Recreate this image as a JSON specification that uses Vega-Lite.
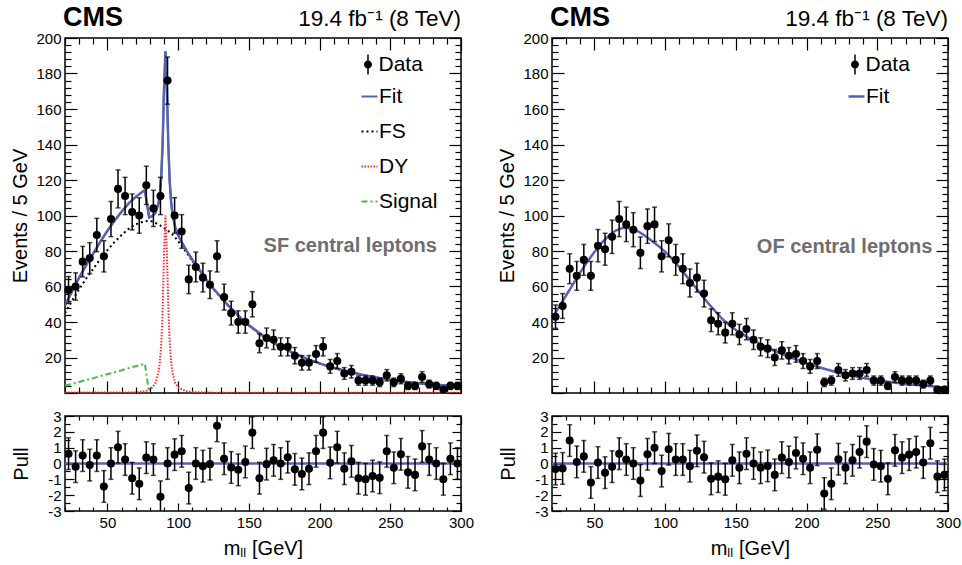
{
"$schema": "https://vega.github.io/schema/vega-lite/v6.json",
"padding": {"left": 10, "top": 3, "right": 0, "bottom": 0},
"background": "white",
"bounds": "flush",
"columns": 2,
"spacing": {"row": 23, "column": 91},
"resolve": {"scale": {"color": "independent", "strokeDash": "independent", "shape": "independent"}, "legend": {"color": "independent", "strokeDash": "independent", "shape": "independent"}},
"config": {
  "font": "Liberation Sans",
  "view": {"stroke": "black", "strokeWidth": 1.5},
  "axis": {"domain": false, "grid": false, "tickColor": "black", "tickWidth": 1.2, "labelColor": "black", "labelFont": "Liberation Sans", "labelFontSize": 15, "titleFont": "Liberation Sans", "titleFontSize": 20, "titleFontWeight": "normal", "titleColor": "black", "labelOverlap": false, "labelBound": false, "labelFlush": false},
  "legend": {"labelFont": "Liberation Sans", "labelColor": "black"}
},
"datasets": {
  "sfBins": [
    {"m":22.5,"n":58,"e":7.6,"p":0.62,"pe":1},{"m":27.5,"n":60,"e":7.7,"p":-0.2,"pe":1},{"m":32.5,"n":74,"e":8.6,"p":0.5,"pe":1},{"m":37.5,"n":76,"e":8.7,"p":-0.1,"pe":1},
    {"m":42.5,"n":89,"e":9.4,"p":0.5,"pe":1},{"m":47.5,"n":77,"e":8.8,"p":-1.45,"pe":1},{"m":52.5,"n":98,"e":9.9,"p":0,"pe":1},{"m":57.5,"n":115,"e":10.7,"p":1.03,"pe":1},
    {"m":62.5,"n":111,"e":10.5,"p":0.25,"pe":1},{"m":67.5,"n":102,"e":10.1,"p":-0.93,"pe":1},{"m":72.5,"n":100,"e":10,"p":-1.28,"pe":1},{"m":77.5,"n":117,"e":10.8,"p":0.37,"pe":1},
    {"m":82.5,"n":104,"e":10.2,"p":0.25,"pe":1},{"m":87.5,"n":111,"e":10.5,"p":-2.1,"pe":1},{"m":92.5,"n":176,"e":13.3,"p":0,"pe":1},{"m":97.5,"n":100,"e":10,"p":0.56,"pe":1},
    {"m":102.5,"n":91,"e":9.5,"p":0.77,"pe":1},{"m":107.5,"n":64,"e":8,"p":-1.55,"pe":1},{"m":112.5,"n":71,"e":8.4,"p":0,"pe":1},{"m":117.5,"n":65,"e":8.1,"p":-0.17,"pe":1},
    {"m":122.5,"n":61,"e":7.8,"p":-0.04,"pe":1},{"m":127.5,"n":77,"e":8.8,"p":2.38,"pe":1},{"m":132.5,"n":54,"e":7.3,"p":0.3,"pe":1},{"m":137.5,"n":45,"e":6.7,"p":-0.25,"pe":1},
    {"m":142.5,"n":40,"e":6.3,"p":-0.4,"pe":1},{"m":147.5,"n":40,"e":6.3,"p":0.1,"pe":1},{"m":152.5,"n":50,"e":7.1,"p":1.95,"pe":1},{"m":157.5,"n":28,"e":5.3,"p":-0.93,"pe":1},
    {"m":162.5,"n":31,"e":5.6,"p":-0.04,"pe":1},{"m":167.5,"n":30,"e":5.5,"p":0.2,"pe":1},{"m":172.5,"n":26,"e":5.1,"p":0,"pe":1},{"m":177.5,"n":26,"e":5.1,"p":0.4,"pe":1},
    {"m":182.5,"n":21,"e":4.6,"p":-0.37,"pe":1},{"m":187.5,"n":17,"e":4.1,"p":-0.66,"pe":1},{"m":192.5,"n":17,"e":4.1,"p":-0.33,"pe":1},{"m":197.5,"n":22,"e":4.7,"p":0.77,"pe":1},
    {"m":202.5,"n":26,"e":5.1,"p":1.95,"pe":1},{"m":207.5,"n":15,"e":3.9,"p":0.04,"pe":1},{"m":212.5,"n":18,"e":4.2,"p":1.03,"pe":1},{"m":217.5,"n":11,"e":3.3,"p":-0.33,"pe":1},
    {"m":222.5,"n":12,"e":3.5,"p":0.14,"pe":1},{"m":227.5,"n":7,"e":2.6,"p":-0.93,"pe":1},{"m":232.5,"n":7,"e":2.6,"p":-1.0,"pe":1},{"m":237.5,"n":7,"e":2.6,"p":-0.79,"pe":1},
    {"m":242.5,"n":6,"e":2.4,"p":-0.9,"pe":1},{"m":247.5,"n":10,"e":3.2,"p":0.77,"pe":1},{"m":252.5,"n":6,"e":2.4,"p":-0.27,"pe":1},{"m":257.5,"n":8,"e":2.8,"p":0.58,"pe":1},
    {"m":262.5,"n":4,"e":2,"p":-0.56,"pe":1},{"m":267.5,"n":4,"e":2,"p":-0.72,"pe":1},{"m":272.5,"n":9,"e":3,"p":1.08,"pe":1},{"m":277.5,"n":5,"e":2.2,"p":0.25,"pe":1},
    {"m":282.5,"n":4,"e":2,"p":0,"pe":1},{"m":287.5,"n":2,"e":1.4,"p":-1.0,"pe":1},{"m":292.5,"n":4,"e":2,"p":0.3,"pe":1},{"m":297.5,"n":4,"e":2,"p":0,"pe":1}
  ],
  "ofBins": [
    {"m":22.5,"n":43,"e":6.6,"p":-0.35,"pe":1},{"m":27.5,"n":49,"e":7,"p":-0.31,"pe":1},{"m":32.5,"n":70,"e":8.4,"p":1.45,"pe":1},{"m":37.5,"n":66,"e":8.1,"p":0.1,"pe":1},
    {"m":42.5,"n":75,"e":8.7,"p":0.45,"pe":1},{"m":47.5,"n":66,"e":8.1,"p":-1.2,"pe":1},{"m":52.5,"n":83,"e":9.1,"p":0.06,"pe":1},{"m":57.5,"n":81,"e":9,"p":-0.58,"pe":1},
    {"m":62.5,"n":88,"e":9.4,"p":-0.2,"pe":1},{"m":67.5,"n":98,"e":9.9,"p":0.62,"pe":1},{"m":72.5,"n":95,"e":9.7,"p":0.25,"pe":1},{"m":77.5,"n":92,"e":9.6,"p":0,"pe":1},
    {"m":82.5,"n":79,"e":8.9,"p":-1.08,"pe":1},{"m":87.5,"n":94,"e":9.7,"p":0.58,"pe":1},{"m":92.5,"n":95,"e":9.7,"p":1.0,"pe":1},{"m":97.5,"n":77,"e":8.8,"p":-0.48,"pe":1},
    {"m":102.5,"n":86,"e":9.3,"p":0.9,"pe":1},{"m":107.5,"n":75,"e":8.7,"p":0.25,"pe":1},{"m":112.5,"n":70,"e":8.4,"p":0.25,"pe":1},{"m":117.5,"n":62,"e":7.9,"p":-0.17,"pe":1},
    {"m":122.5,"n":65,"e":8.1,"p":0.8,"pe":1},{"m":127.5,"n":56,"e":7.5,"p":0.4,"pe":1},{"m":132.5,"n":41,"e":6.4,"p":-0.97,"pe":1},{"m":137.5,"n":39,"e":6.2,"p":-0.83,"pe":1},
    {"m":142.5,"n":34,"e":5.8,"p":-1.0,"pe":1},{"m":147.5,"n":39,"e":6.2,"p":0.2,"pe":1},{"m":152.5,"n":33,"e":5.7,"p":-0.27,"pe":1},{"m":157.5,"n":36,"e":6,"p":0.62,"pe":1},
    {"m":162.5,"n":30,"e":5.5,"p":0,"pe":1},{"m":167.5,"n":26,"e":5.1,"p":-0.27,"pe":1},{"m":172.5,"n":25,"e":5,"p":-0.15,"pe":1},{"m":177.5,"n":20,"e":4.5,"p":-0.72,"pe":1},
    {"m":182.5,"n":24,"e":4.9,"p":0.37,"pe":1},{"m":187.5,"n":21,"e":4.6,"p":0.1,"pe":1},{"m":192.5,"n":22,"e":4.7,"p":0.66,"pe":1},{"m":197.5,"n":18,"e":4.2,"p":0.3,"pe":1},
    {"m":202.5,"n":15,"e":3.9,"p":-0.27,"pe":1},{"m":207.5,"n":18,"e":4.2,"p":0.87,"pe":1},{"m":212.5,"n":6,"e":2.4,"p":-1.9,"pe":1},{"m":217.5,"n":7,"e":2.6,"p":-1.28,"pe":1},
    {"m":222.5,"n":13,"e":3.6,"p":0.27,"pe":1},{"m":227.5,"n":10,"e":3.2,"p":-0.27,"pe":1},{"m":232.5,"n":11,"e":3.3,"p":0.2,"pe":1},{"m":237.5,"n":11,"e":3.3,"p":0.72,"pe":1},
    {"m":242.5,"n":13,"e":3.6,"p":1.38,"pe":1},{"m":247.5,"n":7,"e":2.6,"p":-0.06,"pe":1},{"m":252.5,"n":7,"e":2.6,"p":-0.17,"pe":1},{"m":257.5,"n":4,"e":2,"p":-0.97,"pe":1},
    {"m":262.5,"n":9,"e":3,"p":0.83,"pe":1},{"m":267.5,"n":7,"e":2.6,"p":0.37,"pe":1},{"m":272.5,"n":7,"e":2.6,"p":0.56,"pe":1},{"m":277.5,"n":7,"e":2.6,"p":0.72,"pe":1},
    {"m":282.5,"n":5,"e":2.2,"p":0.06,"pe":1},{"m":287.5,"n":7,"e":2.6,"p":1.28,"pe":1},{"m":292.5,"n":2,"e":1.4,"p":-0.83,"pe":1},{"m":297.5,"n":2,"e":1.4,"p":-0.72,"pe":1}
  ],
  "sfCurves": [
    {"m":20,"Fit":49.3,"FS":45,"DY":0.3,"Signal":4},{"m":25,"Fit":57.4,"FS":52,"DY":0.3,"Signal":5.1},{"m":30,"Fit":65.0,"FS":58.5,"DY":0.3,"Signal":6.2},
    {"m":35,"Fit":72.1,"FS":64.5,"DY":0.3,"Signal":7.3},{"m":40,"Fit":78.7,"FS":70,"DY":0.3,"Signal":8.4},{"m":45,"Fit":85.3,"FS":75.5,"DY":0.3,"Signal":9.5},
    {"m":50,"Fit":91.4,"FS":80.5,"DY":0.3,"Signal":10.6},{"m":55,"Fit":97.0,"FS":85,"DY":0.3,"Signal":11.7},{"m":60,"Fit":102.1,"FS":89,"DY":0.3,"Signal":12.8},
    {"m":65,"Fit":106.8,"FS":92.5,"DY":0.3,"Signal":14.0},{"m":70,"Fit":110.5,"FS":95,"DY":0.4,"Signal":15.1},{"m":75,"Fit":113.5,"FS":96.5,"DY":0.8,"Signal":16.2},
    {"m":76.5,"Fit":114.2,"FS":96.7,"DY":1.0,"Signal":16.5},{"m":78,"Fit":106.3,"FS":96.9,"DY":1.4,"Signal":8},{"m":79.5,"Fit":98.9,"FS":97,"DY":1.9,"Signal":0},
    {"m":80,"Fit":99.1,"FS":97,"DY":2.1},{"m":82,"Fit":99.8,"FS":96.5,"DY":3.3},{"m":84,"Fit":101.6,"FS":95.8,"DY":5.8},{"m":86,"Fit":106.5,"FS":95,"DY":11.5},
    {"m":87,"Fit":111.6,"FS":94.6,"DY":17},{"m":88,"Fit":121.1,"FS":94.1,"DY":27},{"m":89,"Fit":139.6,"FS":93.6,"DY":46},{"m":90,"Fit":171,"FS":93,"DY":78},
    {"m":91,"Fit":192.5,"FS":92.5,"DY":100},{"m":92,"Fit":171.9,"FS":91.9,"DY":80},{"m":93,"Fit":141.3,"FS":91.3,"DY":50},{"m":94,"Fit":119.7,"FS":90.7,"DY":29},
    {"m":95,"Fit":108,"FS":90,"DY":18},{"m":96,"Fit":100.7,"FS":89.2,"DY":11.5},{"m":98,"Fit":93,"FS":87.5,"DY":5.5},{"m":100,"Fit":88.7,"FS":85.5,"DY":3.2},
    {"m":103,"Fit":84.3,"FS":82.5,"DY":1.8},{"m":106,"Fit":80.1,"FS":79,"DY":1.1},{"m":110,"Fit":75.1,"FS":74.5,"DY":0.6},{"m":115,"Fit":69.4,"FS":69,"DY":0.4},
    {"m":120,"Fit":63.8,"FS":63.5,"DY":0.3},{"m":125,"Fit":58.7,"FS":58.5,"DY":0.2},{"m":130,"Fit":54.2,"FS":54,"DY":0.2},{"m":135,"Fit":49.7,"FS":49.5,"DY":0.2},
    {"m":140,"Fit":45.7,"FS":45.5,"DY":0.2},{"m":145,"Fit":41.7,"FS":41.5,"DY":0.2},{"m":150,"Fit":38.2,"FS":38,"DY":0.2},{"m":155,"Fit":35.2,"FS":35,"DY":0.2},
    {"m":160,"Fit":32.2,"FS":32,"DY":0.2},{"m":165,"Fit":29.6,"FS":29.5,"DY":0.1},{"m":170,"Fit":27.1,"FS":27,"DY":0.1},{"m":175,"Fit":25.1,"FS":25,"DY":0.1},
    {"m":180,"Fit":23.1,"FS":23,"DY":0.1},{"m":185,"Fit":21.3,"FS":21.2,"DY":0.1},{"m":190,"Fit":19.6,"FS":19.5,"DY":0.1},{"m":195,"Fit":18.1,"FS":18,"DY":0.1},
    {"m":200,"Fit":16.7,"FS":16.6,"DY":0.1},{"m":205,"Fit":15.4,"FS":15.3,"DY":0.1},{"m":210,"Fit":14.2,"FS":14.1,"DY":0.1},{"m":220,"Fit":12.1,"FS":12,"DY":0.1},
    {"m":230,"Fit":10.3,"FS":10.2,"DY":0.1},{"m":240,"Fit":8.8,"FS":8.7,"DY":0.1},{"m":250,"Fit":7.5,"FS":7.4,"DY":0.1},{"m":260,"Fit":6.4,"FS":6.3,"DY":0.1},
    {"m":270,"Fit":5.5,"FS":5.4,"DY":0.1},{"m":280,"Fit":4.8,"FS":4.7,"DY":0.1},{"m":290,"Fit":4.2,"FS":4.1,"DY":0.1},{"m":300,"Fit":3.7,"FS":3.6,"DY":0.1}
  ],
  "ofCurves": [
    {"m":20,"Fit":42},{"m":25,"Fit":48.5},{"m":30,"Fit":55},{"m":35,"Fit":61.5},{"m":40,"Fit":68},{"m":45,"Fit":74},{"m":50,"Fit":79.5},{"m":55,"Fit":84.5},
    {"m":60,"Fit":88.5},{"m":65,"Fit":91.5},{"m":70,"Fit":93},{"m":75,"Fit":93},{"m":80,"Fit":91.5},{"m":85,"Fit":89},{"m":90,"Fit":86},{"m":95,"Fit":83},
    {"m":100,"Fit":79.5},{"m":105,"Fit":75.5},{"m":110,"Fit":71},{"m":115,"Fit":66},{"m":120,"Fit":61},{"m":125,"Fit":56},{"m":130,"Fit":51},{"m":135,"Fit":46.5},
    {"m":140,"Fit":42},{"m":145,"Fit":38.5},{"m":150,"Fit":35.5},{"m":155,"Fit":33},{"m":160,"Fit":30.5},{"m":165,"Fit":28.5},{"m":170,"Fit":26.5},{"m":175,"Fit":24.5},
    {"m":180,"Fit":22.8},{"m":185,"Fit":21.2},{"m":190,"Fit":19.7},{"m":195,"Fit":18.2},{"m":200,"Fit":16.8},{"m":205,"Fit":15.5},{"m":210,"Fit":14.2},{"m":220,"Fit":12},
    {"m":230,"Fit":10.1},{"m":240,"Fit":8.5},{"m":250,"Fit":7.2},{"m":260,"Fit":6.1},{"m":270,"Fit":5.1},{"m":280,"Fit":4.3},{"m":290,"Fit":3.6},{"m":300,"Fit":3.0}
  ]
},
"concat": [
  {"width": 396, "height": 355,
   "resolve": {"axis": {"x": "independent", "y": "independent"}},
   "layer": [
    {"data": {"name": "sfCurves"},
     "transform": [{"fold": ["Fit", "FS", "DY", "Signal"], "as": ["comp", "v"]}],
     "mark": {"type": "line", "clip": true, "strokeWidth": 2},
     "encoding": {
      "x": {"field": "m", "type": "quantitative", "scale": {"domain": [20, 300], "nice": false, "zero": false},
            "axis": {"orient": "bottom", "values": [20,30,40,50,60,70,80,90,100,110,120,130,140,150,160,170,180,190,200,210,220,230,240,250,260,270,280,290,300], "labels": false, "title": null,
                     "tickSize": {"condition": {"test": "datum.value % 50 === 0", "value": -12}, "value": -6}}},
      "y": {"field": "v", "type": "quantitative", "scale": {"domain": [0, 200], "nice": false},
            "axis": {"orient": "left", "values": [20,40,60,80,100,120,140,160,180,200], "ticks": false, "labelPadding": 4, "title": "Events / 5 GeV", "titlePadding": 5}},
      "color": {"field": "comp", "type": "nominal", "scale": {"domain": ["Fit", "FS", "DY", "Signal"], "range": ["#5763b0", "#000000", "#ff3030", "#44bb44"]},
                "legend": {"orient": "none", "legendX": 294, "legendY": 48, "title": null, "symbolType": "stroke", "symbolSize": 256, "symbolStrokeWidth": 2, "labelFontSize": 21, "rowPadding": 13, "padding": 0, "labelOffset": -1}},
      "strokeDash": {"field": "comp", "type": "nominal", "scale": {"domain": ["Fit", "FS", "DY", "Signal"], "range": [[1, 0], [2, 3], [1.5, 1.5], [6, 3, 2, 3]]},
                "legend": {"orient": "none", "legendX": 294, "legendY": 48, "title": null, "symbolType": "stroke", "symbolSize": 256, "symbolStrokeWidth": 2, "labelFontSize": 21, "rowPadding": 13, "padding": 0, "labelOffset": -1}}
     }},
    {"data": {"name": "sfCurves"},
     "mark": {"type": "line", "clip": true, "strokeWidth": 2.5, "color": "#5763b0"},
     "encoding": {
      "x": {"field": "m", "type": "quantitative", "axis": null},
      "y": {"field": "Fit", "type": "quantitative", "axis": null}
     }},
    {"data": {"name": "sfBins"},
     "mark": {"type": "errorbar", "color": "black", "ticks": {"size": 5, "thickness": 1.5}, "rule": {"strokeWidth": 1.5}},
     "encoding": {
      "x": {"field": "m", "type": "quantitative", "axis": null},
      "y": {"field": "n", "type": "quantitative", "axis": null},
      "yError": {"field": "e"}
     }},
    {"data": {"name": "sfBins"},
     "mark": {"type": "point", "filled": true, "size": 65, "color": "black", "opacity": 1},
     "encoding": {
      "x": {"field": "m", "type": "quantitative",
            "axis": {"orient": "top", "values": [20,30,40,50,60,70,80,90,100,110,120,130,140,150,160,170,180,190,200,210,220,230,240,250,260,270,280,290,300], "labels": false, "title": null,
                     "tickSize": {"condition": {"test": "datum.value % 50 === 0", "value": -12}, "value": -6}}},
      "y": {"field": "n", "type": "quantitative",
            "axis": {"orient": "right", "values": [0,4,8,12,16,20,24,28,32,36,40,44,48,52,56,60,64,68,72,76,80,84,88,92,96,100,104,108,112,116,120,124,128,132,136,140,144,148,152,156,160,164,168,172,176,180,184,188,192,196,200], "labels": false, "title": null,
                     "tickSize": {"condition": {"test": "datum.value % 20 === 0", "value": -12}, "value": -6}}}
     }},
    {"data": {"values": []},
     "mark": {"type": "point", "filled": true, "fill": "black", "opacity": 1},
     "encoding": {
      "x": {"field": "m", "type": "quantitative", "axis": null},
      "y": {"field": "n", "type": "quantitative",
            "axis": {"orient": "left", "values": [0,4,8,12,16,20,24,28,32,36,40,44,48,52,56,60,64,68,72,76,80,84,88,92,96,100,104,108,112,116,120,124,128,132,136,140,144,148,152,156,160,164,168,172,176,180,184,188,192,196,200], "labels": false, "title": null,
                     "tickSize": {"condition": {"test": "datum.value % 20 === 0", "value": -12}, "value": -6}}},
      "shape": {"datum": "Data", "scale": {"range": ["M-0.075,-1H0.075V1H-0.075ZM-0.4,0A0.4,0.4,0,1,1,0.4,0A0.4,0.4,0,1,1,-0.4,0Z"]},
                "legend": {"orient": "none", "legendX": 292.5, "legendY": 16, "title": null, "labelFontSize": 21, "symbolSize": 400, "padding": 0, "labelOffset": 0,
                           "symbolFillColor": "black", "symbolStrokeColor": "black", "symbolStrokeWidth": 0}}
     }},
    {"data": {"values": [{}]},
     "mark": {"type": "text", "align": "left", "baseline": "alphabetic", "dx": -2, "dy": -12, "fontSize": 27, "fontWeight": "bold", "font": "Liberation Sans", "color": "black"},
     "encoding": {"x": {"datum": 20, "type": "quantitative", "axis": null}, "y": {"datum": 200, "type": "quantitative", "axis": null}, "text": {"value": "CMS"}}},
    {"data": {"values": [{}]},
     "mark": {"type": "text", "align": "right", "baseline": "alphabetic", "dy": -12, "fontSize": 22.5, "font": "Liberation Sans", "color": "black"},
     "encoding": {"x": {"datum": 300, "type": "quantitative", "axis": null}, "y": {"datum": 200, "type": "quantitative", "axis": null}, "text": {"value": "19.4 fb⁻¹ (8 TeV)"}}},
    {"data": {"values": [{}]},
     "mark": {"type": "text", "align": "right", "baseline": "middle", "fontSize": 20, "fontWeight": "bold", "font": "Liberation Sans", "color": "#6e6e6e"},
     "encoding": {"x": {"datum": 283, "type": "quantitative", "axis": null}, "y": {"datum": 83, "type": "quantitative", "axis": null}, "text": {"value": "SF central leptons"}}}
   ]},
  {"width": 396, "height": 355,
   "resolve": {"axis": {"x": "independent", "y": "independent"}},
   "layer": [
    {"data": {"name": "ofCurves"},
     "transform": [{"fold": ["Fit"], "as": ["comp", "v"]}],
     "mark": {"type": "line", "clip": true, "strokeWidth": 2.5},
     "encoding": {
      "x": {"field": "m", "type": "quantitative", "scale": {"domain": [20, 300], "nice": false, "zero": false},
            "axis": {"orient": "bottom", "values": [20,30,40,50,60,70,80,90,100,110,120,130,140,150,160,170,180,190,200,210,220,230,240,250,260,270,280,290,300], "labels": false, "title": null,
                     "tickSize": {"condition": {"test": "datum.value % 50 === 0", "value": -12}, "value": -6}}},
      "y": {"field": "v", "type": "quantitative", "scale": {"domain": [0, 200], "nice": false},
            "axis": {"orient": "left", "values": [20,40,60,80,100,120,140,160,180,200], "ticks": false, "labelPadding": 4, "title": "Events / 5 GeV", "titlePadding": 5}},
      "color": {"field": "comp", "type": "nominal", "scale": {"domain": ["Fit"], "range": ["#5763b0"]},
                "legend": {"orient": "none", "legendX": 294, "legendY": 48, "title": null, "symbolType": "stroke", "symbolSize": 256, "labelFontSize": 21, "rowPadding": 13, "padding": 0, "labelOffset": -1, "symbolStrokeWidth": 2.5}}
     }},
    {"data": {"name": "ofBins"},
     "mark": {"type": "errorbar", "color": "black", "ticks": {"size": 5, "thickness": 1.5}, "rule": {"strokeWidth": 1.5}},
     "encoding": {
      "x": {"field": "m", "type": "quantitative", "axis": null},
      "y": {"field": "n", "type": "quantitative", "axis": null},
      "yError": {"field": "e"}
     }},
    {"data": {"name": "ofBins"},
     "mark": {"type": "point", "filled": true, "size": 65, "color": "black", "opacity": 1},
     "encoding": {
      "x": {"field": "m", "type": "quantitative",
            "axis": {"orient": "top", "values": [20,30,40,50,60,70,80,90,100,110,120,130,140,150,160,170,180,190,200,210,220,230,240,250,260,270,280,290,300], "labels": false, "title": null,
                     "tickSize": {"condition": {"test": "datum.value % 50 === 0", "value": -12}, "value": -6}}},
      "y": {"field": "n", "type": "quantitative",
            "axis": {"orient": "right", "values": [0,4,8,12,16,20,24,28,32,36,40,44,48,52,56,60,64,68,72,76,80,84,88,92,96,100,104,108,112,116,120,124,128,132,136,140,144,148,152,156,160,164,168,172,176,180,184,188,192,196,200], "labels": false, "title": null,
                     "tickSize": {"condition": {"test": "datum.value % 20 === 0", "value": -12}, "value": -6}}}
     }},
    {"data": {"values": []},
     "mark": {"type": "point", "filled": true, "fill": "black", "opacity": 1},
     "encoding": {
      "x": {"field": "m", "type": "quantitative", "axis": null},
      "y": {"field": "n", "type": "quantitative",
            "axis": {"orient": "left", "values": [0,4,8,12,16,20,24,28,32,36,40,44,48,52,56,60,64,68,72,76,80,84,88,92,96,100,104,108,112,116,120,124,128,132,136,140,144,148,152,156,160,164,168,172,176,180,184,188,192,196,200], "labels": false, "title": null,
                     "tickSize": {"condition": {"test": "datum.value % 20 === 0", "value": -12}, "value": -6}}},
      "shape": {"datum": "Data", "scale": {"range": ["M-0.075,-1H0.075V1H-0.075ZM-0.4,0A0.4,0.4,0,1,1,0.4,0A0.4,0.4,0,1,1,-0.4,0Z"]},
                "legend": {"orient": "none", "legendX": 292.5, "legendY": 16, "title": null, "labelFontSize": 21, "symbolSize": 400, "padding": 0, "labelOffset": 0,
                           "symbolFillColor": "black", "symbolStrokeColor": "black", "symbolStrokeWidth": 0}}
     }},
    {"data": {"values": [{}]},
     "mark": {"type": "text", "align": "left", "baseline": "alphabetic", "dx": -2, "dy": -12, "fontSize": 27, "fontWeight": "bold", "font": "Liberation Sans", "color": "black"},
     "encoding": {"x": {"datum": 20, "type": "quantitative", "axis": null}, "y": {"datum": 200, "type": "quantitative", "axis": null}, "text": {"value": "CMS"}}},
    {"data": {"values": [{}]},
     "mark": {"type": "text", "align": "right", "baseline": "alphabetic", "dy": -12, "fontSize": 22.5, "font": "Liberation Sans", "color": "black"},
     "encoding": {"x": {"datum": 300, "type": "quantitative", "axis": null}, "y": {"datum": 200, "type": "quantitative", "axis": null}, "text": {"value": "19.4 fb⁻¹ (8 TeV)"}}},
    {"data": {"values": [{}]},
     "mark": {"type": "text", "align": "right", "baseline": "middle", "fontSize": 20, "fontWeight": "bold", "font": "Liberation Sans", "color": "#6e6e6e"},
     "encoding": {"x": {"datum": 289, "type": "quantitative", "axis": null}, "y": {"datum": 82, "type": "quantitative", "axis": null}, "text": {"value": "OF central leptons"}}}
   ]},
  {"width": 396, "height": 95,
   "resolve": {"axis": {"x": "independent", "y": "independent"}},
   "layer": [
    {"data": {"values": [{}]},
     "mark": {"type": "rule", "color": "#5763b0", "strokeWidth": 2.5},
     "encoding": {"y": {"datum": 0, "type": "quantitative", "scale": {"domain": [-3, 3], "nice": false}, "axis": null}}},
    {"data": {"name": "sfBins"},
     "mark": {"type": "errorbar", "color": "black", "clip": true, "ticks": {"size": 5, "thickness": 1.5}, "rule": {"strokeWidth": 1.5}},
     "encoding": {
      "x": {"field": "m", "type": "quantitative", "scale": {"domain": [20, 300], "nice": false, "zero": false}, "axis": null},
      "y": {"field": "p", "type": "quantitative", "axis": null},
      "yError": {"field": "pe"}
     }},
    {"data": {"name": "sfBins"},
     "mark": {"type": "point", "filled": true, "size": 65, "color": "black", "opacity": 1, "clip": true},
     "encoding": {
      "x": {"field": "m", "type": "quantitative",
            "axis": {"orient": "bottom", "values": [50,100,150,200,250,300], "ticks": false, "labelPadding": 4, "title": "mₗₗ [GeV]", "titlePadding": 8}},
      "y": {"field": "p", "type": "quantitative",
            "axis": {"orient": "left", "values": [-3,-2,-1,0,1,2,3], "labelExpr": "'' + datum.value", "ticks": false, "labelPadding": 4, "title": "Pull", "titlePadding": 16}}
     }},
    {"data": {"values": []},
     "mark": {"type": "point"},
     "encoding": {
      "x": {"field": "m", "type": "quantitative",
            "axis": {"orient": "bottom", "values": [20,30,40,50,60,70,80,90,100,110,120,130,140,150,160,170,180,190,200,210,220,230,240,250,260,270,280,290,300], "labels": false, "title": null,
                     "tickSize": {"condition": {"test": "datum.value % 50 === 0", "value": -8}, "value": -4}}},
      "y": {"field": "p", "type": "quantitative",
            "axis": {"orient": "left", "values": [-3,-2.5,-2,-1.5,-1,-0.5,0,0.5,1,1.5,2,2.5,3], "labels": false, "title": null,
                     "tickSize": {"condition": {"test": "datum.value % 1 === 0", "value": -9}, "value": -5}}}
     }},
    {"data": {"values": []},
     "mark": {"type": "point"},
     "encoding": {
      "x": {"field": "m", "type": "quantitative",
            "axis": {"orient": "top", "values": [20,30,40,50,60,70,80,90,100,110,120,130,140,150,160,170,180,190,200,210,220,230,240,250,260,270,280,290,300], "labels": false, "title": null,
                     "tickSize": {"condition": {"test": "datum.value % 50 === 0", "value": -8}, "value": -4}}},
      "y": {"field": "p", "type": "quantitative",
            "axis": {"orient": "right", "values": [-3,-2.5,-2,-1.5,-1,-0.5,0,0.5,1,1.5,2,2.5,3], "labels": false, "title": null,
                     "tickSize": {"condition": {"test": "datum.value % 1 === 0", "value": -9}, "value": -5}}}
     }}
   ]},
  {"width": 396, "height": 95,
   "resolve": {"axis": {"x": "independent", "y": "independent"}},
   "layer": [
    {"data": {"values": [{}]},
     "mark": {"type": "rule", "color": "#5763b0", "strokeWidth": 2.5},
     "encoding": {"y": {"datum": 0, "type": "quantitative", "scale": {"domain": [-3, 3], "nice": false}, "axis": null}}},
    {"data": {"name": "ofBins"},
     "mark": {"type": "errorbar", "color": "black", "clip": true, "ticks": {"size": 5, "thickness": 1.5}, "rule": {"strokeWidth": 1.5}},
     "encoding": {
      "x": {"field": "m", "type": "quantitative", "scale": {"domain": [20, 300], "nice": false, "zero": false}, "axis": null},
      "y": {"field": "p", "type": "quantitative", "axis": null},
      "yError": {"field": "pe"}
     }},
    {"data": {"name": "ofBins"},
     "mark": {"type": "point", "filled": true, "size": 65, "color": "black", "opacity": 1, "clip": true},
     "encoding": {
      "x": {"field": "m", "type": "quantitative",
            "axis": {"orient": "bottom", "values": [50,100,150,200,250,300], "ticks": false, "labelPadding": 4, "title": "mₗₗ [GeV]", "titlePadding": 8}},
      "y": {"field": "p", "type": "quantitative",
            "axis": {"orient": "left", "values": [-3,-2,-1,0,1,2,3], "labelExpr": "'' + datum.value", "ticks": false, "labelPadding": 4, "title": "Pull", "titlePadding": 16}}
     }},
    {"data": {"values": []},
     "mark": {"type": "point"},
     "encoding": {
      "x": {"field": "m", "type": "quantitative",
            "axis": {"orient": "bottom", "values": [20,30,40,50,60,70,80,90,100,110,120,130,140,150,160,170,180,190,200,210,220,230,240,250,260,270,280,290,300], "labels": false, "title": null,
                     "tickSize": {"condition": {"test": "datum.value % 50 === 0", "value": -8}, "value": -4}}},
      "y": {"field": "p", "type": "quantitative",
            "axis": {"orient": "left", "values": [-3,-2.5,-2,-1.5,-1,-0.5,0,0.5,1,1.5,2,2.5,3], "labels": false, "title": null,
                     "tickSize": {"condition": {"test": "datum.value % 1 === 0", "value": -9}, "value": -5}}}
     }},
    {"data": {"values": []},
     "mark": {"type": "point"},
     "encoding": {
      "x": {"field": "m", "type": "quantitative",
            "axis": {"orient": "top", "values": [20,30,40,50,60,70,80,90,100,110,120,130,140,150,160,170,180,190,200,210,220,230,240,250,260,270,280,290,300], "labels": false, "title": null,
                     "tickSize": {"condition": {"test": "datum.value % 50 === 0", "value": -8}, "value": -4}}},
      "y": {"field": "p", "type": "quantitative",
            "axis": {"orient": "right", "values": [-3,-2.5,-2,-1.5,-1,-0.5,0,0.5,1,1.5,2,2.5,3], "labels": false, "title": null,
                     "tickSize": {"condition": {"test": "datum.value % 1 === 0", "value": -9}, "value": -5}}}
     }}
   ]}
]
}
